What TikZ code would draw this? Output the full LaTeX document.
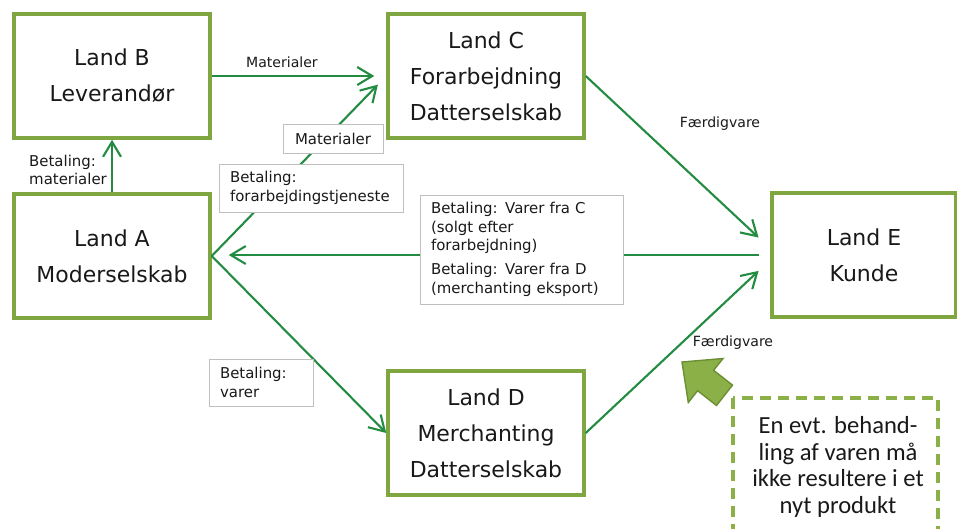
\documentclass[tikz,border=0pt]{standalone}
\usepackage{fontspec}
\setmainfont{DejaVu Sans}
\newfontfamily\notefont{Carlito}
\usepackage{xcolor}
\usepackage{tikz}
\usetikzlibrary{arrows.meta,calc}

\definecolor{boxgreen}{RGB}{128,166,66}
\definecolor{flowgreen}{RGB}{36,140,66}
\definecolor{notegreen}{RGB}{140,176,72}
\definecolor{notedark}{RGB}{108,142,52}
\definecolor{txt}{RGB}{25,25,25}

\begin{document}
\begin{tikzpicture}[x=0.02cm,y=-0.02cm,
    landbox/.style={draw=boxgreen, line width=2pt, fill=white, align=center,
        minimum width=3.92cm, minimum height=2.48cm, text=txt,
        font=\fontsize{12.5}{20.5}\selectfont},
    tagbox/.style={draw=black!25, line width=0.5pt, fill=white, align=left,
        inner xsep=0.22cm, inner ysep=0pt, text=txt,
        font=\fontsize{8.5}{10.6}\selectfont},
    tag/.style={text=txt, font=\fontsize{8}{10}\selectfont},
    flow/.style={draw=flowgreen, line width=1.2pt,
        -{Straight Barb[length=3mm,width=3.6mm]}}]
    \useasboundingbox (0,0) rectangle (957,528);

    % Lande
    \node[landbox] (B) at (112,76) {Land B\\Leverandør};
    \node[landbox] (C) at (486,76) {Land C\\Forarbejdning\\Datterselskab};
    \node[landbox] (A) at (112,256) {Land A\\Moderselskab};
    \node[landbox, minimum width=3.68cm] (E) at (864,255) {Land E\\Kunde};
    \node[landbox] (D) at (486,433) {Land D\\Merchanting\\Datterselskab};

    % Pile
    \draw[flow, shorten >=12*0.02cm] (B.east) -- (C.west);
    \draw[flow, shorten >=12*0.02cm] (A.east) -- (C.west);
    \draw[flow] (A.east) -- (D.west);
    \draw[flow] (A.north) -- (B.south);
    \draw[flow, shorten <=11*0.02cm, shorten >=17*0.02cm] (E.west) -- (E.west -| A.east);
    \draw[flow, shorten >=16*0.02cm] (C.east) -- (E.176);
    \draw[flow, shorten >=16*0.02cm] (D.east) -- (E.183);

    % Tekster
    \node[tag] (matBC) at (282,62) {Materialer};
    \node[tag] (fvC) at (720,124) {Færdigvare};
    \node[tag] (fvD) at (733,343) {Færdigvare};
    \node[tag, align=left, anchor=west, font=\fontsize{8.5}{10.6}\selectfont] (betB) at (23,170) {Betaling:\\materialer};
    \node[tagbox, minimum width=2cm, minimum height=0.58cm, align=center] (matAC) at (333,138.5) {Materialer};
    \node[tagbox, text width=3.24cm, minimum height=0.96cm] (betC) at (311,188) {Betaling:\\forarbejdingstjeneste};
    \node[tagbox, text width=3.62cm, minimum height=2.18cm] (betE) at (521.5,249.5)
        {Betaling: Varer fra C\\(solgt efter\\forarbejdning)\\[3pt]Betaling: Varer fra D\\(merchanting eksport)};
    \node[tagbox, text width=1.64cm, minimum height=0.94cm] (betD) at (261,382.5) {Betaling:\\varer};

    % Bemaerkning
    \draw[draw=notedark, fill=notegreen, line width=0.8pt]
        (682,362) -- (723,358.5) -- (713.6,370.3) -- (732.5,385.1)
        -- (716.5,405.5) -- (697.6,390.7) -- (688.3,402.5) -- cycle;
    \draw[notegreen, line width=2.4pt, dash pattern=on 0.22cm off 0.14cm] (733,398) rectangle (938,545);
    \node[align=center, text=txt, font=\notefont\fontsize{14}{15.2}\selectfont] (note) at (838,467)
        {En evt. behand-\\ling af varen må\\ikke resultere i et\\nyt produkt};
\end{tikzpicture}
\end{document}
